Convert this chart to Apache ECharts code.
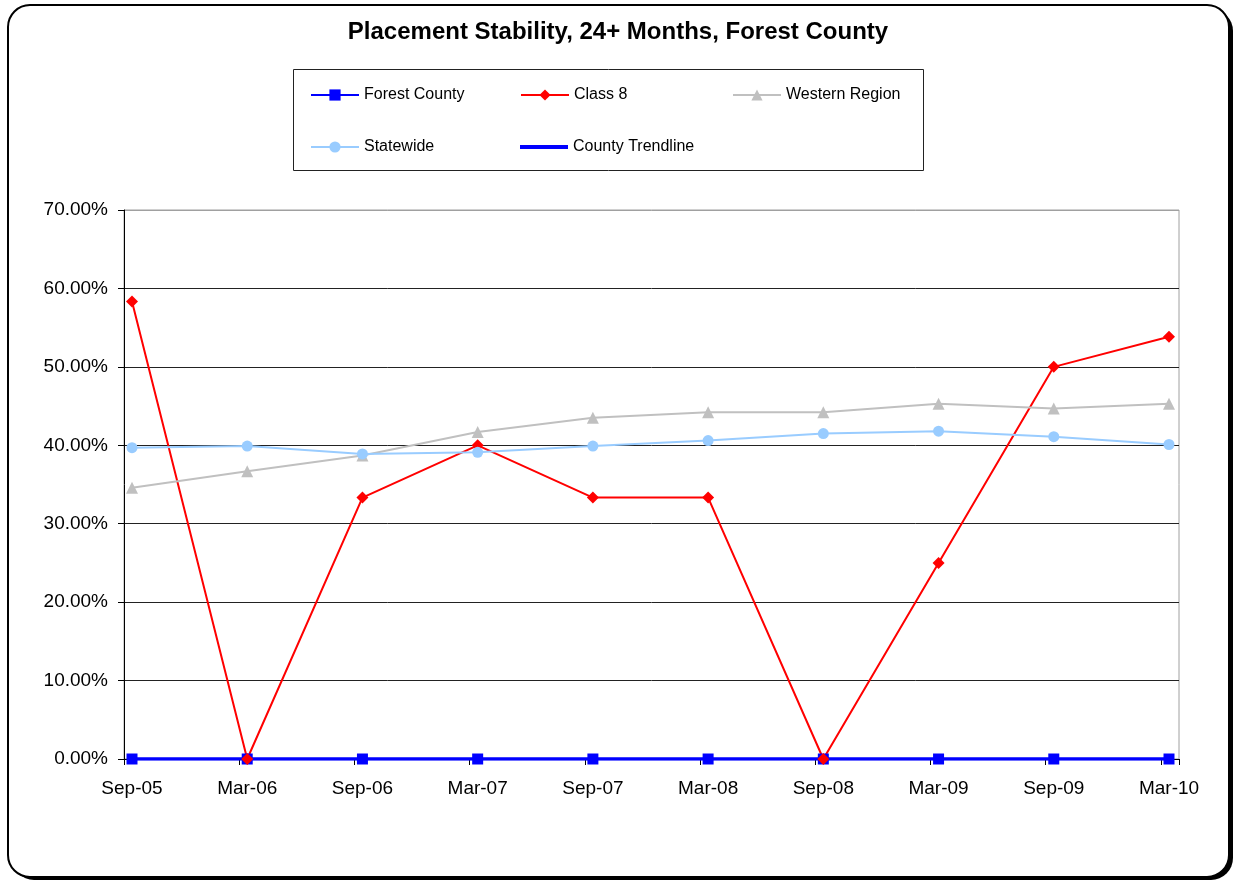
<!DOCTYPE html>
<html lang="en">
<head>
<meta charset="UTF-8">
<title>Placement Stability, 24+ Months, Forest County</title>
<script type="text/javascript" src="https://cdn.jsdelivr.net/npm/echarts@6/dist/echarts.min.js"></script>
<style type="text/css">
	html, body { margin: 0; padding: 0; background: #fff; }
	#chart { width: 1236px; height: 882px; }
</style>
</head>
<body>
<div id="chart"></div>
<script type="text/javascript">
	// data
	var categories = ['Sep-05', 'Mar-06', 'Sep-06', 'Mar-07', 'Sep-07', 'Mar-08', 'Sep-08', 'Mar-09', 'Sep-09', 'Mar-10'];
	var forestCounty = [0, 0, 0, 0, 0, 0, 0, 0, 0, 0];
	var class8 = [0.5833, 0, 0.3333, 0.40, 0.3333, 0.3333, 0, 0.25, 0.50, 0.5385];
	var westernRegion = [0.346, 0.367, 0.387, 0.417, 0.435, 0.442, 0.442, 0.453, 0.447, 0.453];
	var statewide = [0.397, 0.399, 0.389, 0.391, 0.399, 0.406, 0.415, 0.418, 0.411, 0.401];
	var countyTrendline = [0, 0, 0, 0, 0, 0, 0, 0, 0, 0];
	var yMin = 0, yMax = 0.7, yStep = 0.1;

	var font = 'Liberation Sans, Arial, sans-serif';

	// legend helper: one legend per item so they sit in fixed columns
	function legendAt(item, left, top, h){
		return {
			data: [item],
			left: left,
			top: top,
			padding: 0,
			itemWidth: 48,
			itemHeight: h || 14,
			selectedMode: false,
			textStyle: { fontFamily: font, fontSize: 16, color: '#000' }
		};
	}

	var chart = echarts.init(document.getElementById('chart'));
	var option = {
		animation: false,
		title: {
			text: 'Placement Stability, 24+ Months, Forest County',
			left: 'center',
			top: 15,
			textStyle: { fontFamily: font, fontSize: 24, fontWeight: 'bold', color: '#000' }
		},
		legend: [
			legendAt('Forest County', 310, 87),
			legendAt('Class 8', 520, 87),
			legendAt('Western Region', 732, 87),
			legendAt('Statewide', 310, 139),
			legendAt({ name: 'County Trendline', icon: 'rect' }, 520, 139, 4)
		],
		graphic: [
			// outer frame with its dark drop edge
			{
				type: 'rect', silent: true, z: -2,
				shape: { x: 12, y: 9, width: 1221, height: 871, r: 22 },
				style: { fill: '#000' }
			},
			{
				type: 'rect', silent: true, z: -1,
				shape: { x: 8, y: 5, width: 1221, height: 872, r: 22 },
				style: { fill: '#fff', stroke: '#000', lineWidth: 2 }
			},
			{
				type: 'rect', silent: true,
				shape: { x: 293.5, y: 69.5, width: 630, height: 101 },
				style: { fill: 'none', stroke: '#222', lineWidth: 1 }
			}
		],
		grid: [
			// plot frame, gridlines, y labels, x ticks
			{ left: 124, right: 57, top: 210, bottom: 123, show: true, borderColor: '#a0a0a0', borderWidth: 1, backgroundColor: 'transparent' },
			// data area: points sit a little inside the frame
			{ left: 132, right: 67, top: 210, bottom: 123 }
		],
		xAxis: [
			{
				type: 'value', gridIndex: 0, min: 0, max: 9.158, interval: 1,
				axisLine: { show: true, lineStyle: { color: '#000', width: 1 } },
				axisTick: { show: true, length: 6, lineStyle: { color: '#000' } },
				axisLabel: { show: false },
				splitLine: { show: false }
			},
			{
				type: 'category', gridIndex: 1, data: categories, boundaryGap: false,
				axisLine: { show: false },
				axisTick: { show: false },
				axisLabel: { fontFamily: font, fontSize: 19, color: '#000', margin: 20 },
				splitLine: { show: false }
			}
		],
		yAxis: [
			{
				type: 'value', gridIndex: 0, min: yMin, max: yMax, interval: yStep,
				axisLine: { show: true, lineStyle: { color: '#000', width: 1 } },
				axisTick: { show: true, length: 6, lineStyle: { color: '#000' } },
				axisLabel: {
					fontFamily: font, fontSize: 19, color: '#000', margin: 16,
					formatter: function(v){ return (v * 100).toFixed(2) + '%'; }
				},
				splitLine: { show: true, lineStyle: { color: ['#222', '#222', '#222', '#222', '#222', '#222', '#222', '#a0a0a0'], width: 1 } }
			},
			{ type: 'value', gridIndex: 1, min: yMin, max: yMax, show: false, splitLine: { show: false } }
		],
		series: [
			{
				name: 'Forest County', type: 'line', xAxisIndex: 1, yAxisIndex: 1, data: forestCounty,
				symbol: 'rect', symbolSize: 11,
				lineStyle: { color: '#0000ff', width: 2 }, itemStyle: { color: '#0000ff' }
			},
			{
				name: 'Class 8', type: 'line', xAxisIndex: 1, yAxisIndex: 1, data: class8,
				symbol: 'diamond', symbolSize: 12,
				lineStyle: { color: '#ff0000', width: 2 }, itemStyle: { color: '#ff0000' }
			},
			{
				name: 'Western Region', type: 'line', xAxisIndex: 1, yAxisIndex: 1, data: westernRegion,
				symbol: 'triangle', symbolSize: 12,
				lineStyle: { color: '#c0c0c0', width: 2 }, itemStyle: { color: '#c0c0c0' }
			},
			{
				name: 'Statewide', type: 'line', xAxisIndex: 1, yAxisIndex: 1, data: statewide,
				symbol: 'circle', symbolSize: 11,
				lineStyle: { color: '#99ccff', width: 2 }, itemStyle: { color: '#99ccff' }
			},
			{
				name: 'County Trendline', type: 'line', xAxisIndex: 1, yAxisIndex: 1, data: countyTrendline,
				symbol: 'none', showSymbol: false,
				lineStyle: { color: '#0000ff', width: 3.5 }, itemStyle: { color: '#0000ff' }
			}
		]
	};
	chart.setOption(option, true);
</script>
</body>
</html>
